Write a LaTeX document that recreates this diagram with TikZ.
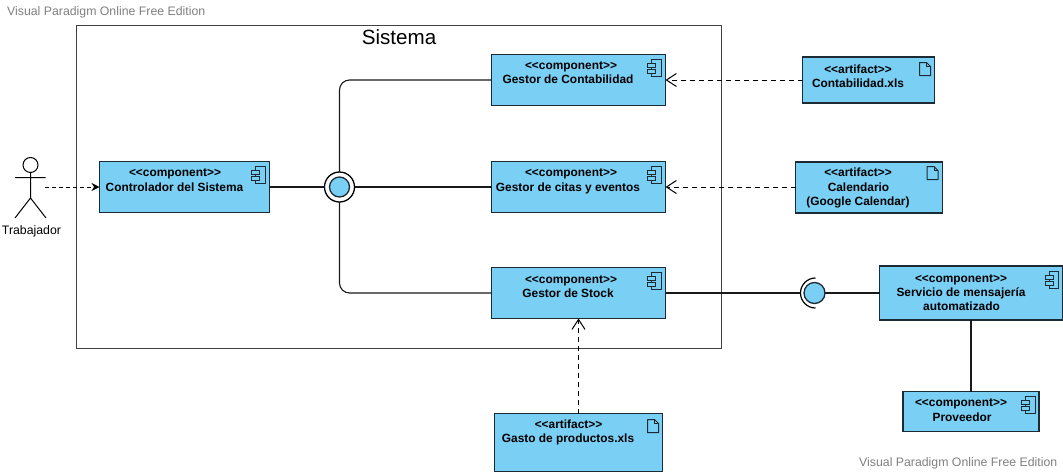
\documentclass[tikz,border=0pt]{standalone}
\usepackage{fontspec}
\setmainfont{Liberation Sans}
\usetikzlibrary{arrows.meta}
\definecolor{boxfill}{HTML}{7ACFF5}
\definecolor{ink}{HTML}{1C2B33}
\definecolor{wm}{HTML}{808080}
\newcommand{\stereo}[1]{<{}<#1>{}>}
\tikzset{
  uml/.style={draw=ink,line width=1.4pt,fill=boxfill,inner sep=0pt,outer sep=0pt},
  btext/.style={font=\fontsize{11.9pt}{13pt}\selectfont\bfseries,text=black,inner sep=0pt,anchor=base},
  wire/.style={draw=black!90,line width=1.1pt},
  dep/.style={draw=black,line width=1pt,dash pattern=on 5pt off 4pt,-{Straight Barb[length=10pt,width=13pt,line width=1pt]}},
  compicon/.pic={
    \draw[draw=ink,line width=1pt,fill=boxfill] (4,0) rectangle (13.5,17);
    \draw[draw=ink,line width=1pt,fill=boxfill] (0,4) rectangle (8,7.5);
    \draw[draw=ink,line width=1pt,fill=boxfill] (0,10) rectangle (8,13.5);
  },
  fileicon/.pic={
    \draw[draw=ink,line width=1pt,fill=boxfill,line join=round] (0,0) -- (7,0) -- (11,4) -- (11,13) -- (0,13) -- cycle;
    \draw[draw=ink,line width=.8pt] (7,0) -- (7,4) -- (11,4);
  }
}
\begin{document}
\begin{tikzpicture}[x=1pt,y=-1pt]
\useasboundingbox (-0.5,-0.5) rectangle (1062.5,471.5);
\fill[white] (-0.5,-0.5) rectangle (1062.5,471.5);
% system frame
\node[draw=black!75,line width=1.1pt,fill=white,minimum width=645pt,minimum height=323pt,inner sep=0pt] (sistema) at (398.5,186.5) {};
\node[inner sep=0pt,anchor=base,font=\fontsize{20.6pt}{23pt}\selectfont] (sistemat) at (398.5,44) {Sistema};
% watermarks
\node[inner sep=0pt,anchor=base west,text=wm,font=\fontsize{12.3pt}{14pt}\selectfont] (wm1) at (6.5,15) {Visual Paradigm Online Free Edition};
\node[inner sep=0pt,anchor=base west,text=wm,font=\fontsize{12.3pt}{14pt}\selectfont] (wm2) at (858.5,466) {Visual Paradigm Online Free Edition};
% boxes
\node[uml,minimum width=170pt,minimum height=51pt] (ctrl) at (184,186.5) {};
\node[uml,minimum width=174pt,minimum height=51pt] (contab) at (578,79.5) {};
\node[uml,minimum width=174pt,minimum height=51pt] (citas) at (578,186.5) {};
\node[uml,minimum width=174pt,minimum height=51pt] (stock) at (578,292.5) {};
\node[uml,minimum width=132pt,minimum height=46pt] (cxls) at (868,79.5) {};
\node[uml,minimum width=147pt,minimum height=51pt] (cal) at (868.5,187) {};
\node[uml,minimum width=183pt,minimum height=54pt] (serv) at (970.5,292.5) {};
\node[uml,minimum width=136pt,minimum height=40pt] (prov) at (970.5,411) {};
\node[uml,minimum width=168pt,minimum height=58pt] (gasto) at (578,442) {};
% interface symbols
\node[draw=black,line width=1.3pt,fill=white,circle,minimum size=30pt,inner sep=0pt,outer sep=0pt] (iface) at (339,186.5) {};
\node[draw=ink,line width=1.3pt,fill=boxfill,circle,minimum size=20pt,inner sep=0pt,outer sep=0pt] (ifacein) at (339,186.5) {};
\node[draw=ink,line width=1.3pt,fill=boxfill,circle,minimum size=21pt,inner sep=0pt,outer sep=0pt] (lolli) at (814,292.5) {};
\coordinate (sock) at (799.5,292.5);
\draw[black,line width=1.2pt] (815,277.5) arc[start angle=90,end angle=270,radius=15pt];
% connectors
\draw[wire,rounded corners=10pt] (contab.west) -| (iface.north);
\draw[wire,rounded corners=10pt] (iface.south) |- (stock.west);
\draw[wire] (ctrl.east) -- (iface.west);
\draw[wire] (iface.east) -- (citas.west);
\draw[wire] (stock.east) -- (sock);
\draw[wire] (lolli.east) -- (serv.west);
\draw[wire] (serv.south) -- (prov.north);
\draw[dep] (cxls.west) -- (contab.east);
\draw[dep] (citas.east -| cal.west) -- (citas.east);
\draw[dep] (gasto.north) -- (stock.south);
% actor
\node[draw=black,line width=1pt,fill=white,circle,minimum size=15pt,inner sep=0pt,outer sep=0pt] (head) at (30,164.5) {};
\coordinate (hip) at (30,197.5);
\coordinate (hand) at (44.5,186.5);
\draw[black,line width=1pt] (head.south) -- (hip) (14.5,177) -- (45,177) (14.5,217.5) -- (hip) -- (45.5,217.5);
\node[inner sep=0pt,anchor=base,font=\fontsize{12.3pt}{14pt}\selectfont] (actor) at (31,234) {Trabajador};
\draw[draw=black,line width=1pt,dash pattern=on 4pt off 3pt,-{Stealth[length=8pt,width=8pt]}] (hand) -- (ctrl.west |- hand);
% texts
\node[btext] (t1) at (174.5,176) {\stereo{component}};
\node[btext] (t2) at (174,191) {Controlador del Sistema};
\node[btext] (t3) at (570.5,69) {\stereo{component}};
\node[btext] (t4) at (567.5,83) {Gestor de Contabilidad};
\node[btext] (t5) at (570.5,176) {\stereo{component}};
\node[btext] (t6) at (567.5,191) {Gestor de citas y eventos};
\node[btext] (t7) at (570.5,283) {\stereo{component}};
\node[btext] (t8) at (567.5,297) {Gestor de Stock};
\node[btext] (t9) at (857.5,73) {\stereo{artifact}};
\node[btext] (t10) at (857.5,87) {Contabilidad.xls};
\node[btext] (t11) at (857.5,176) {\stereo{artifact}};
\node[btext] (t12) at (858,191) {Calendario};
\node[btext] (t13) at (857.5,205) {(Google Calendar)};
\node[btext] (t14) at (960.5,282) {\stereo{component}};
\node[btext] (t15) at (960.5,296) {Servicio de mensajería};
\node[btext] (t16) at (961,310) {automatizado};
\node[btext] (t17) at (960.5,406) {\stereo{component}};
\node[btext] (t18) at (961.5,421) {Proveedor};
\node[btext] (t19) at (568,428) {\stereo{artifact}};
\node[btext] (t20) at (567.5,442) {Gasto de productos.xls};
% icons
\pic at (647,59) {compicon};
\pic at (251,166) {compicon};
\pic at (647,166) {compicon};
\pic at (647,272) {compicon};
\pic at (1044.5,271) {compicon};
\pic at (1021,396) {compicon};
\pic at (919,62) {fileicon};
\pic at (926.5,166) {fileicon};
\pic at (647,419) {fileicon};
\end{tikzpicture}
\end{document}
